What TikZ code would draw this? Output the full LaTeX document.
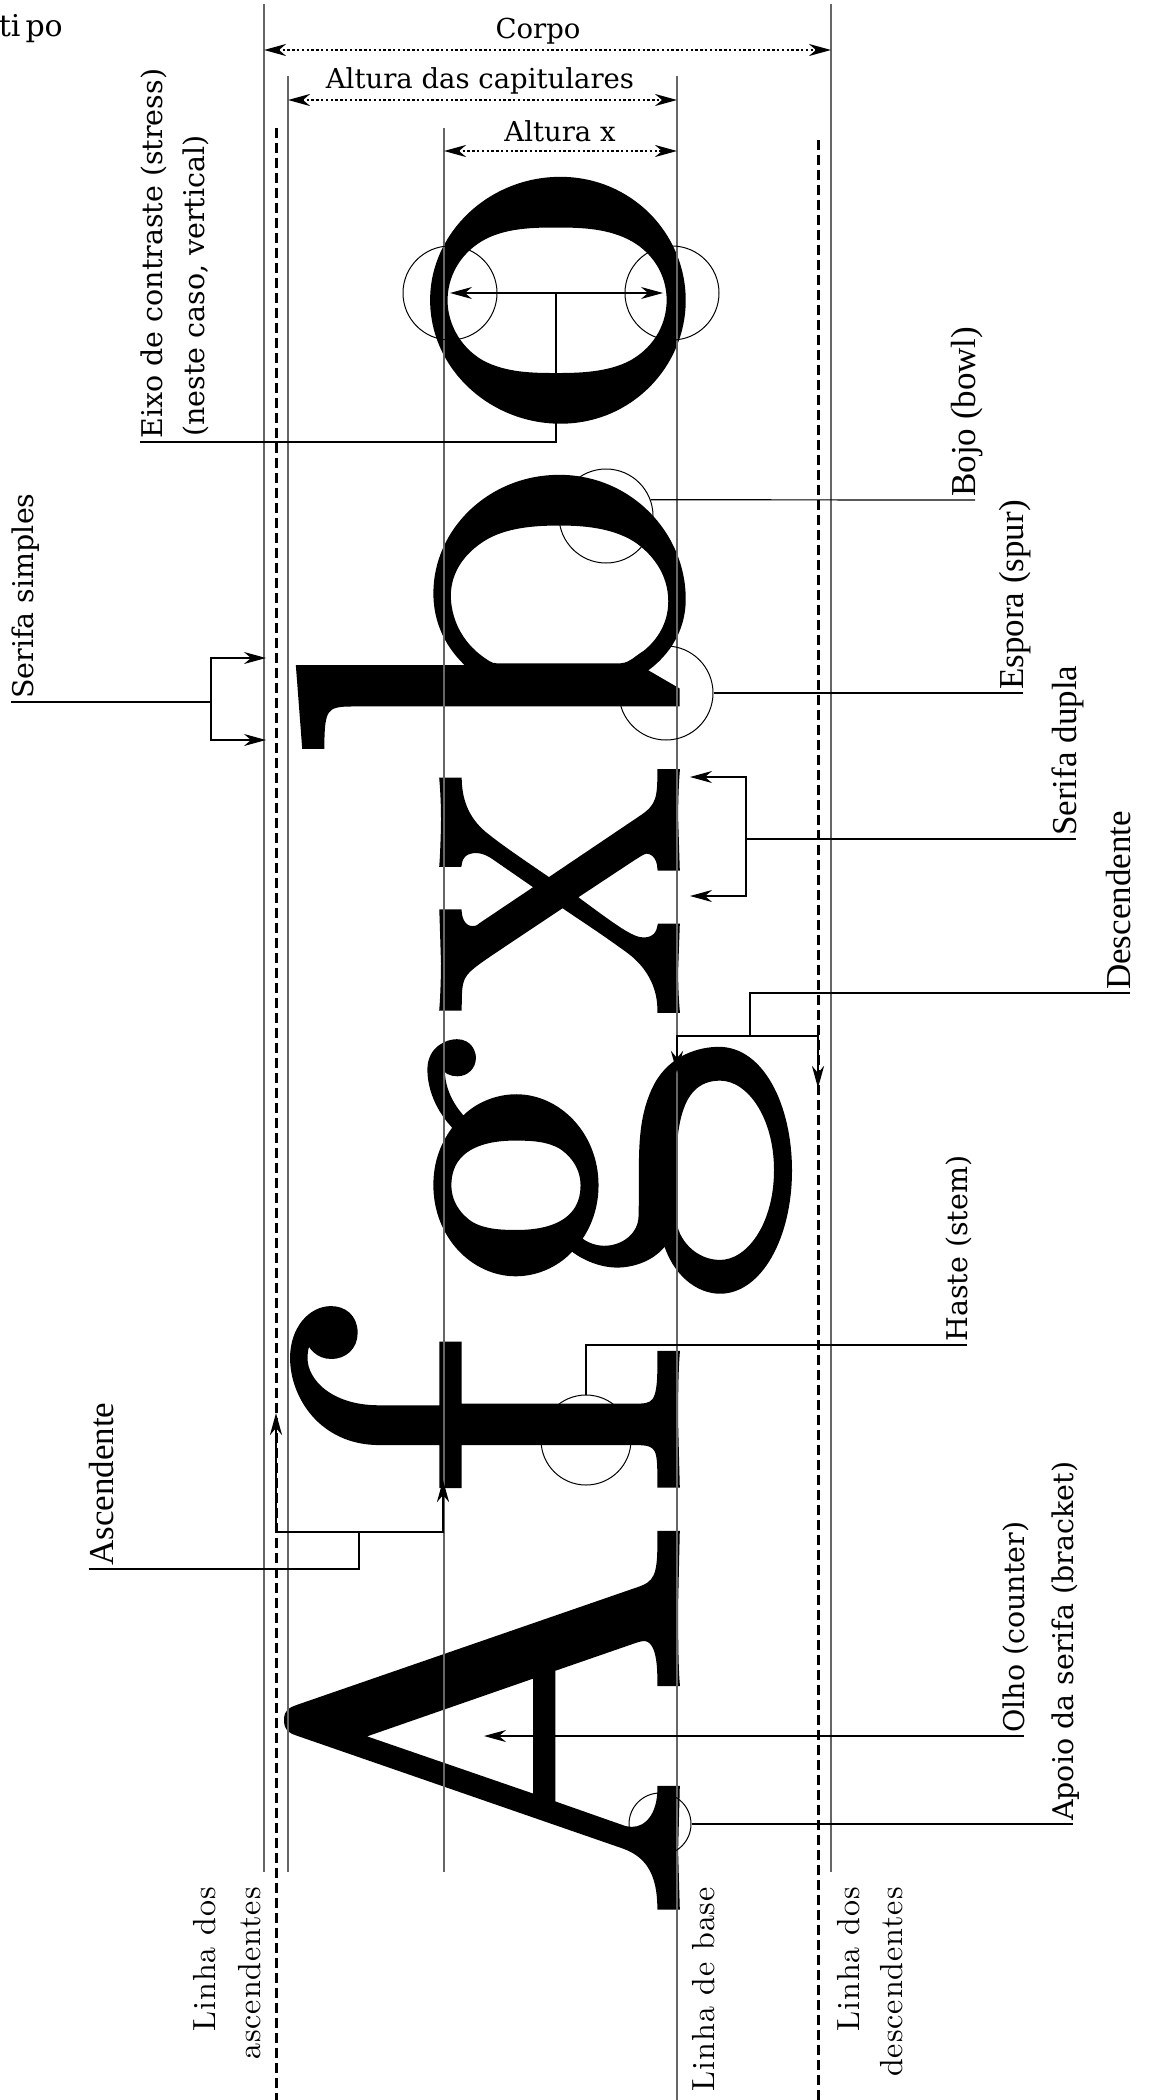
\documentclass[tikz,border=0pt]{standalone}
\usepackage{fontspec}
\usepackage{tikz}
\usetikzlibrary{arrows.meta}
\newfontfamily\rotulo{DejaVu Serif}
\newfontfamily\rotulot{Liberation Serif}
\newfontfamily\lmdez{lmroman10-regular}[Extension=.otf, LetterSpace=3]
\newfontfamily\letras{lmroman10-regular}[Extension=.otf, FakeBold=1]

\tikzset{
  guide/.style={black!60, line width=1.3pt},
  dashguide/.style={line width=3pt, dash pattern=on 10pt off 5pt},
  measure/.style={line width=2.4pt, dash pattern=on 2.4pt off 2.4pt, <->},
  leader/.style={line width=1.2pt},
  heavy/.style={line width=2.8pt},
  ring/.style={circle, draw, line width=1pt, inner sep=0pt},
  glyph/.style={font=\letras\fontsize{545}{600}\selectfont, rotate=90, anchor=base, inner sep=0pt},
  toplab/.style={font=\rotulo\fontsize{27.5}{33}\selectfont, inner sep=0pt},
  lab/.style={font=\rotulo\fontsize{28.5}{34}\selectfont, rotate=90, anchor=base west, inner xsep=3pt, inner ysep=0pt},
  labt/.style={lab, font=\rotulot\fontsize{35}{42}\selectfont},
  linelab/.style={font=\lmdez\fontsize{32}{38}\selectfont, rotate=90, anchor=base east, inner sep=0pt}
}

\begin{document}
\begin{tikzpicture}[x=1pt, y=-1pt, >={Stealth[length=22pt,width=12pt,inset=7pt]}]
  \useasboundingbox (0,0) rectangle (1151,2100);
  % letras
  \node[glyph] (gA) at (677,1720) {A};
  \node[glyph] (gf) at (677,1420) {f};
  \node[glyph] (gg) at (677,1170) {g};
  \node[glyph, xscale=0.87] (gx) at (677,891) {x};
  \node[glyph] (gb) at (677,610) {b};
  \node[glyph] (go) at (677,300) {o};
  % linhas-guia
  \draw[guide] (264,4) -- (264,1872);
  \draw[guide] (831,4) -- (831,1872);
  \draw[guide] (288,76) -- (288,1872);
  \draw[guide] (444,128) -- (444,1872);
  \draw[guide] (677,76) -- (677,2100);
  \draw[dashguide] (276,128) -- (276,2100);
  \draw[dashguide] (818,140) -- (818,2100);
  % medidas
  \node[toplab, font=\rotulo\fontsize{30}{36}\selectfont, anchor=base east] (tipo) at (63,37) {ti\kern5pt po};
  \node[toplab, anchor=base] (corpo) at (538,39) {Corpo};
  \draw[measure] (264,50) -- (831,50);
  \node[toplab, anchor=base] (altcap) at (480,89) {Altura das capitulares};
  \draw[measure] (288,100) -- (677,100);
  \node[toplab, anchor=base] (altx) at (560,142) {Altura x};
  \draw[measure] (444,151) -- (677,151);
  % nomes das linhas
  \node[linelab] (asc1) at (215,1887) {Linha dos};
  \node[linelab] (asc2) at (260,1887) {ascendentes};
  \node[linelab] (bas1) at (714,1887) {Linha de base};
  \node[linelab] (dsc1) at (859,1887) {Linha dos};
  \node[linelab] (dsc2) at (902,1887) {descendentes};
  % circulos
  \node[ring, minimum size=94pt] (stressA) at (450,293) {};
  \node[ring, minimum size=94pt] (stressB) at (672,293) {};
  \node[ring, minimum size=94pt] (bowlC) at (606,516) {};
  \node[ring, minimum size=94pt] (spurC) at (666,693) {};
  \node[ring, minimum size=90pt] (stemC) at (586,1440) {};
  \node[ring, minimum size=62pt] (brackC) at (660,1824) {};
  % eixo de contraste
  \node[lab] (eixo) at (162,442) {Eixo de contraste (stress)};
  \node[lab] (eixo2) at (204,440) {(neste caso, vertical)};
  \coordinate (axL) at (450,293);
  \coordinate (axR) at (663,293);
  \coordinate (axM) at (556,293);
  \draw[leader, <->] (axL) -- (axR);
  \draw[leader] (axM) |- (eixo.north west);
  % serifa simples
  \node[lab] (simples) at (33,702) {Serifa simples};
  \coordinate (ssJ) at (211,702);
  \coordinate (ssA) at (266,658);
  \coordinate (ssB) at (266,740);
  \draw[leader] (simples.north west) -- (ssJ);
  \draw[leader, ->] (ssJ) |- (ssA);
  \draw[leader, ->] (ssJ) |- (ssB);
  % ascendente
  \node[labt] (ascl) at (113,1569) {Ascendente};
  \coordinate (acJ) at (359,1532);
  \coordinate (acA) at (276,1413);
  \coordinate (acB) at (443,1480);
  \draw[leader] (ascl.north west) -| (acJ);
  \draw[heavy, ->] (acJ) -| (acA);
  \draw[heavy, ->] (acJ) -| (acB);
  % lado direito
  \node[labt] (bojo) at (975,500) {Bojo (bowl)};
  \draw[leader] (bowlC.20) -- (bojo.base west);
  \node[labt] (espora) at (1023,693) {Espora (spur)};
  \draw[leader] (spurC.east) -- (espora.base west);
  \node[labt] (dupla) at (1076,839) {Serifa dupla};
  \coordinate (sdJ) at (746,839);
  \coordinate (sdA) at (690,777);
  \coordinate (sdB) at (690,896);
  \draw[leader] (sdJ) -- (dupla.base west);
  \draw[leader, ->] (sdJ) |- (sdA);
  \draw[leader, ->] (sdJ) |- (sdB);
  \node[labt] (dscl) at (1130,993) {Descendente};
  \coordinate (dcJ) at (750,1036);
  \coordinate (dcA) at (677,1073);
  \coordinate (dcB) at (818,1088);
  \draw[leader] (dscl.base west) -| (dcJ);
  \draw[heavy, ->] (dcJ) -| (dcA);
  \draw[heavy, ->] (dcJ) -| (dcB);
  \node[lab] (haste) at (967,1345) {Haste (stem)};
  \draw[leader] (stemC.north) |- (haste.base west);
  \node[lab] (olho) at (1024,1736) {Olho (counter)};
  \coordinate (olhoTip) at (484,1736);
  \draw[leader, <-] (olhoTip) -- (olho.base west);
  \node[lab] (apoio) at (1073,1824) {Apoio da serifa (bracket)};
  \draw[leader] (brackC.east) -- (apoio.base west);
\end{tikzpicture}
\end{document}
